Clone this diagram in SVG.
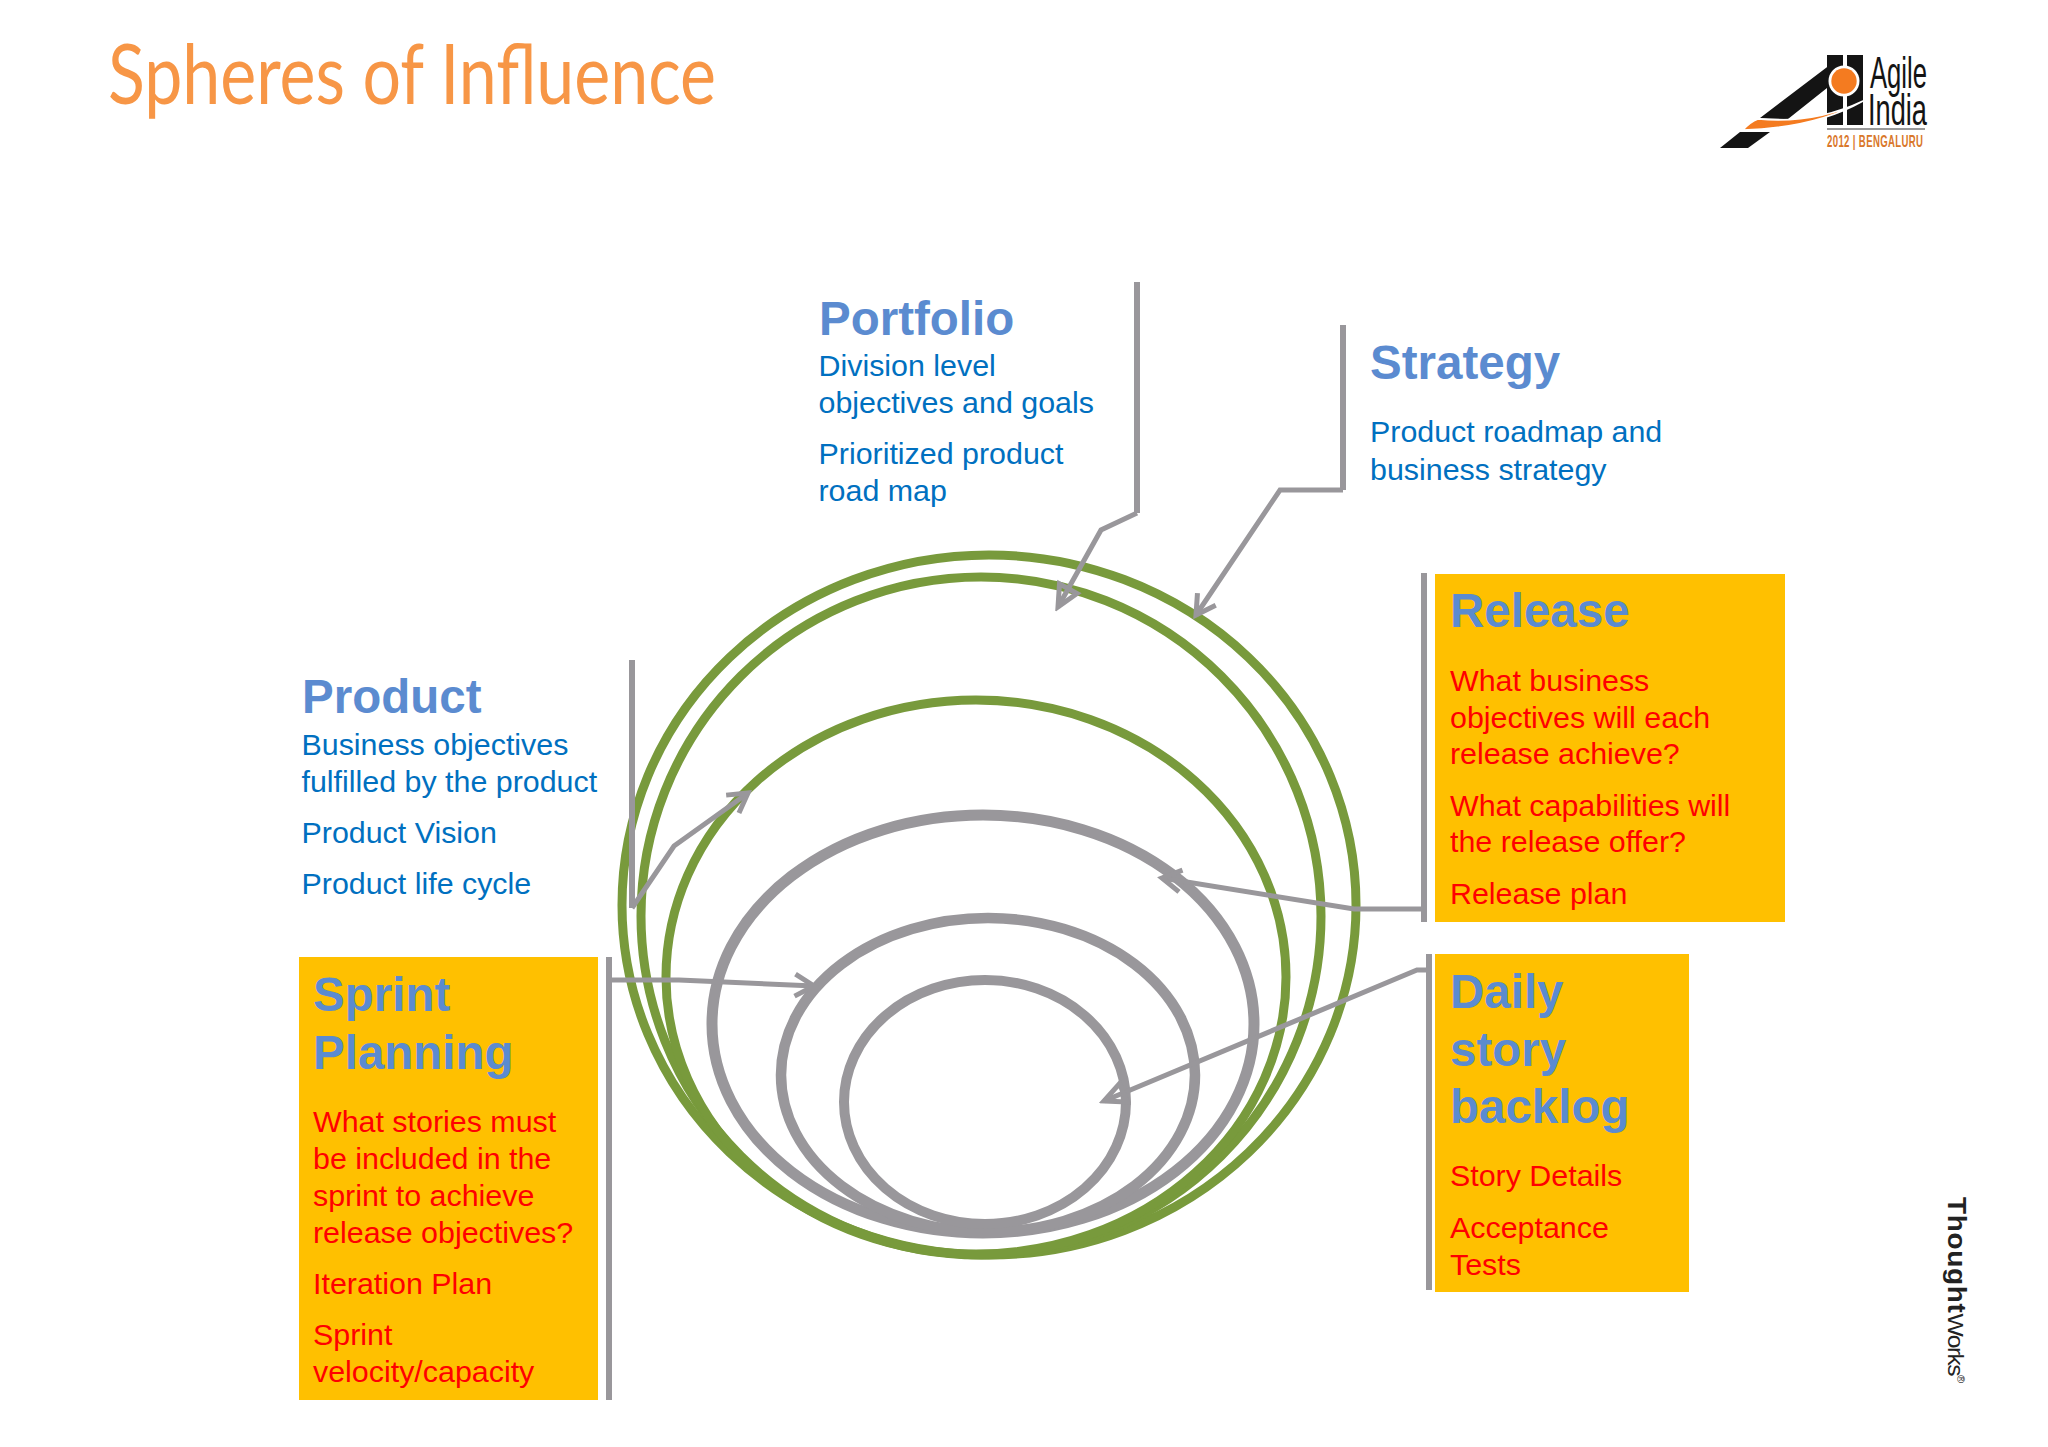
<svg xmlns="http://www.w3.org/2000/svg" width="2048" height="1447" viewBox="0 0 2048 1447">
<style>
text{font-family:"Liberation Sans",Arial,sans-serif}
.h{font-weight:700;font-size:47.5px;fill:#5B8BD0}
.b{font-size:30.4px;fill:#0070C0}
.r{font-size:30.4px;fill:#FF0000}
.box{fill:#FFC000}
.bar{fill:none;stroke:#99979B;stroke-width:6}
.con{fill:none;stroke:#99979B;stroke-width:5}
.o{marker-end:url(#open)}
.t{marker-end:url(#tri)}
.sph{fill:none}
.g{stroke:#789A3C}
.y{stroke:#99979B}
.k{fill:#141414}
.or{fill:#F47B20}
</style>
<defs>
<marker id="open" markerUnits="userSpaceOnUse" markerWidth="30" markerHeight="30" refX="23" refY="15" orient="auto"><path d="M4 4L23 15L4 26" fill="none" stroke="#99979B" stroke-width="5"/></marker>
<marker id="tri" markerUnits="userSpaceOnUse" markerWidth="30" markerHeight="30" refX="25" refY="15" orient="auto"><path d="M4 5L25 15L4 25Z" fill="none" stroke="#99979B" stroke-width="5"/></marker>
</defs>
<rect width="2048" height="1447" fill="#fff"/>
<g id="title"><text x="108" y="104" font-size="84" textLength="608" lengthAdjust="spacingAndGlyphs" style="font-family:Lato,'Liberation Sans',sans-serif;font-weight:400;fill:#F79646">Spheres of Influence</text></g>
<g id="logo">
<polygon class="k" points="1760,118 1843,55 1843,90 1827,88 1788,119"/>
<rect class="k" x="1827" y="55" width="16" height="70"/><rect class="k" x="1847" y="55" width="16" height="70"/>
<polygon class="k" points="1720,148 1740,132 1770,132 1748,148"/>
<circle cx="1844" cy="81" r="15.5" fill="#fff"/><circle class="or" cx="1844" cy="81" r="12.7"/>
<path class="or" d="M1743 130Q1750 122 1758 119Q1815 124 1863 101Q1815 128 1743 130Z" stroke="#fff" stroke-width="1.5"/>
<text x="1870" y="88" font-size="44" textLength="57" lengthAdjust="spacingAndGlyphs" fill="#141414">Agile</text>
<text x="1868" y="125" font-size="44" textLength="59" lengthAdjust="spacingAndGlyphs" fill="#141414">India</text>
<rect x="1827" y="128" width="98" height="2" fill="#999"/>
<text transform="translate(1827 147) scale(.6 1)" font-size="16" font-weight="700" textLength="160" fill="#D9772A">2012 | BENGALURU</text>
</g>
<g id="spheres" class="sph">
<ellipse class="g" cx="989" cy="905" rx="367" ry="350" stroke-width="9"/>
<ellipse class="g" cx="981" cy="916" rx="340" ry="339" stroke-width="9"/>
<ellipse class="g" cx="976" cy="977" rx="310" ry="277" stroke-width="9"/>
<ellipse class="y" cx="983" cy="1024" rx="271" ry="209" stroke-width="11"/>
<ellipse class="y" cx="988" cy="1075" rx="207" ry="157" stroke-width="10.5"/>
<ellipse class="y" cx="985" cy="1102" rx="141" ry="122" stroke-width="10"/>
</g>
<g id="connectors">
<path class="bar" d="M1137 282V513"/>
<path class="con t" d="M1137 513L1101 530L1058 607"/>
<path class="bar" d="M1343 325V490"/>
<path class="con o" d="M1343 490H1280L1196 615"/>
<path class="bar" d="M632 660V908"/>
<path class="con o" d="M632 908L674 846L748 793"/>
<path class="bar" d="M609 957V1400"/>
<path class="con o" d="M609 980H679L814 986"/>
<path class="bar" d="M1424 573V922"/>
<path class="con o" d="M1424 909H1354L1162 878"/>
<path class="bar" d="M1429 954V1290"/>
<path class="con t" d="M1429 970H1417L1104 1101"/>
</g>
<g id="portfolio">
<text class="h" x="819" y="335">Portfolio</text>
<text class="b" x="818.5" y="376">Division level</text>
<text class="b" x="818.5" y="413">objectives and goals</text>
<text class="b" x="818.5" y="464">Prioritized product</text>
<text class="b" x="818.5" y="501">road map</text>
</g>
<g id="strategy">
<text class="h" x="1370" y="379">Strategy</text>
<text class="b" x="1370" y="442">Product roadmap and</text>
<text class="b" x="1370" y="480">business strategy</text>
</g>
<g id="product">
<text class="h" x="302" y="713">Product</text>
<text class="b" x="301.5" y="755">Business objectives</text>
<text class="b" x="301.5" y="792">fulfilled by the product</text>
<text class="b" x="301.5" y="843">Product Vision</text>
<text class="b" x="301.5" y="894">Product life cycle</text>
</g>
<g id="sprint">
<rect class="box" x="299" y="957" width="299" height="443"/>
<text class="h" x="313" y="1011">Sprint</text>
<text class="h" x="313" y="1069">Planning</text>
<text class="r" x="313" y="1132">What stories must</text>
<text class="r" x="313" y="1169">be included in the</text>
<text class="r" x="313" y="1206">sprint to achieve</text>
<text class="r" x="313" y="1243">release objectives?</text>
<text class="r" x="313" y="1294">Iteration Plan</text>
<text class="r" x="313" y="1345">Sprint</text>
<text class="r" x="313" y="1382">velocity/capacity</text>
</g>
<g id="release">
<rect class="box" x="1435" y="574" width="350" height="348"/>
<text class="h" x="1450" y="627">Release</text>
<text class="r" x="1450" y="691">What business</text>
<text class="r" x="1450" y="728">objectives will each</text>
<text class="r" x="1450" y="764">release achieve?</text>
<text class="r" x="1450" y="816">What capabilities will</text>
<text class="r" x="1450" y="852">the release offer?</text>
<text class="r" x="1450" y="904">Release plan</text>
</g>
<g id="daily">
<rect class="box" x="1435" y="954" width="254" height="338"/>
<text class="h" x="1450" y="1008">Daily</text>
<text class="h" x="1450" y="1066">story</text>
<text class="h" x="1450" y="1123">backlog</text>
<text class="r" x="1450" y="1186">Story Details</text>
<text class="r" x="1450" y="1238">Acceptance</text>
<text class="r" x="1450" y="1275">Tests</text>
</g>
<g id="thoughtworks"><text transform="translate(1948 1197) rotate(90) scale(1.12 1)" font-size="25" fill="#222"><tspan font-weight="700" letter-spacing=".6">Thought</tspan><tspan font-size="22" letter-spacing="-1.4">Works</tspan><tspan font-size="10" dy="-9">®</tspan></text></g>
</svg>
